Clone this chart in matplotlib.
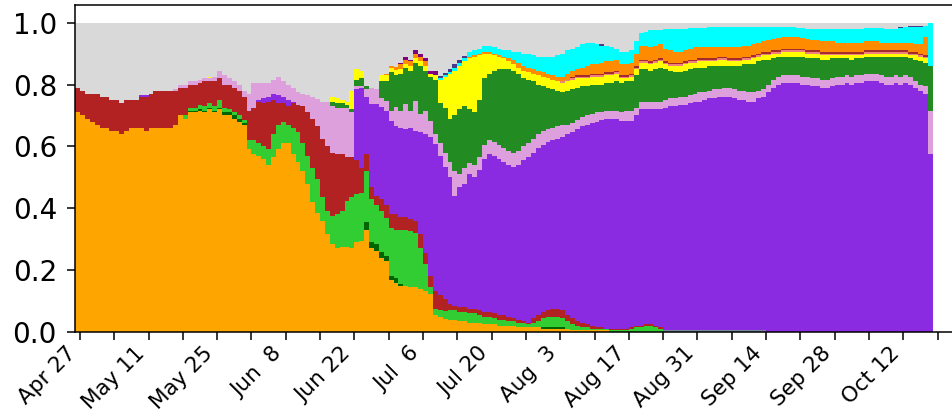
import numpy as np
import pandas as pd
import matplotlib
matplotlib.use("Agg")
import matplotlib.pyplot as plt
import matplotlib.dates as mdates

# Daily shares in percent, one value per day starting 2020-04-26 (175 days).
# Segments: Apr26-May16 | May17-May30 | May31-Jun14 | Jun15-Jul8 | Jul9-Aug14 | Aug15-Aug23 | Aug24-Sep13 | Sep14-Oct17

orange = ([71, 70, 69, 68, 67, 66, 66, 65, 65, 64, 65, 66, 66, 66, 65, 66, 66, 66, 66, 66, 67]
          + [70, 69, 71, 71, 71.5, 71, 72, 71, 72, 70, 70, 69, 68, 67]
          + [59, 57.5, 57, 56, 54, 56.5, 59, 61, 61, 57.5, 55, 52, 48, 42, 38.5]
          + [36, 31.7, 28.5, 27, 27.5, 27.5, 27, 29, 29.5, 33, 27, 26.3, 24, 23, 16.7, 16, 15, 15, 14.5, 14.5,
             14, 13.4, 12.4, 5.4]
          + [4.8, 4.3, 4, 4, 3.5, 3.5, 3, 3, 3, 2.5, 2.5, 2.5, 2, 2, 2, 2, 1.5, 1.5, 1.5, 1.5,
             1.5, 1, 1, 1, 1, 1, 1, .5, .5, .5, .5, .5, .5, .5, .5, 0, 0]
          + [0] * 64)

slate = [0] * 120 + [.5] * 21 + [0] * 34

darkgreen = ([0] * 21 + [0, 0, .5, .5, .5, .5, .5, .5, .5, 1, 1, 1, 1, .5] + [0] * 24
             + [2.5, 2, 2, 2, 1.5, 1.5, 1.5, .5] + [0] * 28 + [.5] * 5 + [0] * 75)

limegreen = ([0] * 21
             + [0, 1, 1, 1, 1.5, 1.5, 1.5, 1.5, 2.5, 1.5, 1, 1, 1, 1]
             + [3, 4.5, 4, 4, 5, 7.5, 8, 7, 6, 8.5, 9.5, 9, 9, 11, 11]
             + [7.5, 7.3, 9, 11, 11.5, 15, 16.5, 15.5, 15.5, 16.5, 14, 12.7, 13, 12.5, 15.3, 15.5, 17.5, 18, 18, 17.5,
                13, 8.6, 2.1, 2.1]
             + [2.2, 2.5, 3, 3, 3, 3, 3, 3, 2.5, 2.5, 2.5, 2, 2, 2, 1.5, 1.5, 1.5, 1.5, 1, 1.5,
                2, 3, 3.5, 3.5, 3.5, 3, 2.5, 2, 1.5, 1, 1, .5, .5, .5, .5, .5, .5]
             + [.5, .5, 1, 1.5, 1.5, 2, 2, 1.5, 1]
             + [0] * 55)

firebrick = ([8, 8, 8, 9, 10, 10, 10, 10, 10, 10, 10, 9, 9, 10, 11, 11, 12, 12, 12, 12, 11]
             + [9, 9, 7.5, 7.5, 7, 8, 7, 8, 7, 7.5, 8, 8, 8, 7.5]
             + [9.5, 10.5, 13.5, 14, 15.5, 11, 7, 6, 6, 8, 9, 12, 14, 16, 17]
             + [19, 21, 20.5, 19.5, 18.5, 14, 13, 11, 8, 5.5, 4, 3, 4, 4, 4.7, 5.2, 4.1, 4.1, 4.1, 4,
                4.7, 3.7, 3.5, 5.9]
             + [5, 4, 2, 1.5, 1.5, 1.5, 1.5, 1.5, 1.5, 1.5, 1.5, 1.5, 1.5, 1.5, 1.5, 1, 1, .5, .5, 1.5,
                2, 2, 2, 2.5, 2.5, 2.5, 2, 2, 1.5, 1.5, 1, 1, .5, .5, 0, .5, .5]
             + [.5] * 9
             + [0] * 55)

blueviolet = ([0] * 13 + [.5, .5] + [0] * 6
              + [0] * 14
              + [0, 0, .5, 1.5, 1.5, 2, 2.5, 2, 2, .5, 0, 0, 0, 0, 0]
              + [0] * 7 + [23, 26, 18.5, 26.7, 29.7, 29.6, 30.5, 30.1, 28.5, 29, 28.5, 29.5, 29, 32.8, 38.3, 44.9, 47.4]
              + [45, 42.7, 41, 35.5, 39, 40, 43.5, 42.5, 45.5, 49.5, 51, 51, 50.5, 49.5, 49, 49, 50, 52, 53.5, 53.5,
                 54, 54, 54.5, 54.5, 55, 56, 58.5, 60, 62, 63.5, 64.5, 65.5, 66.5, 67, 68, 68, 68]
              + [67.3, 67.3, 66.8, 68, 70, 69.5, 69.5, 70, 70.5]
              + [72, 72.5, 72.5, 73, 73, 73.5, 74, 74, 74.5, 75, 75, 75.5, 75.5, 75.5, 75, 74.5, 74.5, 74, 74, 75, 75.5]
              + [77.5, 79, 80, 80.5, 80.5, 80.5, 80.5, 80, 80, 79.5, 79.5, 79, 79, 79.5, 80, 80, 80.5, 80, 80.5, 80.5,
                 81, 81, 81, 80.5, 80, 80, 80.5, 80, 80.5, 80, 79, 78, 77, 57.5])

plum = ([0] * 20 + [.5]
        + [1, 1, 1, 1, 1, 1, 1, 1.5, 2.5, 3, 2, 2, 2, 2]
        + [5.5, 8, 5.5, 5, 4.5, 4.5, 5.8, 5, 5, 4.5, 4, 4, 5.5, 7, 8.8]
        + [12, 14.2, 15, 15, 15, 16, 14.5, 1, .5, 2.5, 5.3, 4.8, 3.2, 3.2, 3.2, 6, 5.4, 8.1, 5.4, 9.7,
           5.9, 7.5, 5.4, 3.2]
        + [4, 4.5, 5, 8, 4, 5, 3.5, 4, 4] + [4.5] * 13 + [4] * 4 + [3] * 7 + [2.5] * 4
        + [2.7, 3.2, 3.2, 2.5, 2.5, 2.5, 2.5, 2.5, 2.5]
        + [2.5, 2.5, 2.5, 2.5, 2.5, 2.5, 2.5, 3, 2.5, 2.5, 3, 2.5, 3, 3, 3, 3, 3, 3, 3, 2.5, 2.5]
        + [2.5] * 30 + [2, 2, 2.5, 14])

forestgreen = ([0] * 52
               + [1.5, 1.5, 1.5, 1, 1, 2, 2.5, 1, 0, 0, 5.4, 6.3, 12.5, 10.4, 11.8, 11.8, 13, 12.3, 15.6, 13, 14, 17.5]
               + [13, 14.5, 14, 18, 21, 20, 17.5, 17, 18.5, 21.5, 21.5, 23, 24.5, 25.5, 26.5, 26.5, 25, 22, 20.5, 18.5,
                  16, 14.5, 13.5, 12.5, 11.5, 10.5, 11, 11, 10.5, 10, 9.5, 9.5, 9, 9, 9, 9, 9.5]
               + [9.5, 9.5, 9.5, 10.5, 10.5, 10.5, 10, 10.5, 11]
               + [10, 9, 8.5, 8, 8.5, 8.5, 8.5, 8, 8, 8, 7.5, 7.5, 7, 7, 7.5, 8, 8.5, 9, 9, 9.5, 9.5]
               + [8, 7, 6.5, 6, 6, 6, 6, 6.5, 6, 6.5, 6.5, 6.5, 6.5, 6.5, 6, 6, 5.5, 5.5, 5.5, 5.5,
                  5.5, 5.5, 5.5, 6, 6.5, 6.5, 6, 6.5, 6, 6, 7, 7.5, 7.5, 14.5])

yellow = ([0] * 27 + [.5] + [0] * 24
          + [1.5, 1.5, 1, 1, 6, 3.5, 2.5, 0, 0, 0, 1.8, 2, 1.5, 1.5, 1.7, 1, 1.5, 1.5, 1.5, 1.5, 1.2, 1.5]
          + [7.5, 10, 14.5, 14.5, 14, 14.5, 16.5, 18, 14.5, 8, 6.5, 5, 4, 3.5, 2.5, 2, 2, 2.5, 2.5, 2.5,
             3, 3, 3, 3, 3, 3, 3, 3, 3, 2.5, 2.5, 2.5, 2.5, 2.5, 2.5, 2.5, 2.5]
          + [1.5, 1, 1.5, 2, 2, 2, 2, 2, 2]
          + [1.5, 1.5, 2, 2, 2, 2, 1.5, 2, 2, 1.5, 1.5, 2, 2, 1.5, 1.5, 1.5, 1.5, 1.5, 2, 1.5, 1.5]
          + [1.5, 1.5, 1, 1.5, 1.5, 1.5, 1.5, 1.5, 1.5, 1.5, 1.5, 1.5, 1.5, 1, 1, 1, 1, 1.5, 1, 1,
             1, 1, 1, 1, 1, 1, 1, 1, 1, 1, 1.5, 1.5, 1.5, 0])

pink = [0] * 99 + [.5] * 75 + [0]
brown = [0] * 101 + [.5] * 73 + [0]

darkorange = ([0] * 63 + [.5, .5, 1, 1.5, 1.5, 1.5, 1.5, 1.5, 1.5] + [0] * 8
              + [.5] * 8 + [1] + [1.5] * 10 + [1.5, 2]
              + [2, 2, 2.5, 3, 3, 3, 3.5, 3.5, 3.5, 3.5]
              + [3.6, 3.6, 3.5, 4, 4.5, 4.5, 4.5, 4.5, 4.5]
              + [4, 4, 3.5, 3.5, 3.5, 3.5, 4, 3.5, 3.5, 3.5, 3.5, 3, 3, 3.5, 3.5, 3.5, 3.5, 3.5, 3.5, 3.5, 3.5]
              + [4, 3.8, 4, 3.7, 3.7, 4, 4, 3.5, 3.8, 3.5, 3.5, 3.5, 3.5, 3.5, 3, 3, 3, 3, 3, 3,
                 3, 3, 3, 2.5, 2.5, 2.5, 2.5, 2.5, 2.5, 3, 2.5, 3, 6, 0])

cyan = ([0] * 74
        + [.5, .5, .5, 1, 1, 1, 1.5, 1.5, 1.5, 2, 2, 2, 2, 2, 2.5, 2.5, 3.5, 4, 4.5, 4.5,
           4.5, 5, 5.5, 6, 7, 7.5, 7.5, 7, 7, 7.5, 7.5, 7, 6.5, 5.5, 5, 4.5, 3.5]
        + [3.9, 3.9, 4, 4, 4, 4.5, 5.5, 5, 4.5]
        + [6.3, 7, 7.5, 7.5, 7, 6.7, 6.2, 6.2, 6.2, 6.5, 6.5, 6.5, 6.5, 6.5, 6.5, 6.5, 6, 6, 5.5, 5, 4.5]
        + [4, 3.7, 3.5, 3.3, 3.3, 3, 2.8, 3.2, 3.2, 3.5, 3.5, 3.8, 3.8, 3.8, 4.3, 4.5, 4.5, 4.5, 4.5, 4.5,
           4.2, 4.2, 4.2, 4.7, 4.5, 4.5, 4.5, 4.7, 5, 5, 5.5, 5.5, 3.5, 14])

navy = ([0] * 74 + [.8, .8, 1, 1, 1, .7] + [0] * 27 + [.5] + [0] * 60
        + [.5] + [0] + [.5, .5, .5] + [0, 0])

purple = [0] * 66 + [.5, 1, .5, 1, 1, 1, 1, 1.5] + [0] * 101

layers = [
    (orange, "#FFA500"),
    (slate, "#778899"),
    (darkgreen, "#006400"),
    (limegreen, "#32CD32"),
    (firebrick, "#B22222"),
    (blueviolet, "#8A2BE2"),
    (plum, "#DDA0DD"),
    (forestgreen, "#228B22"),
    (yellow, "#FFFF00"),
    (pink, "#F08080"),
    (brown, "#A52A2A"),
    (darkorange, "#FF8C00"),
    (cyan, "#00FFFF"),
    (navy, "#483D8B"),
    (purple, "#800080"),
]

n_days = len(orange)
for vals, col in layers:
    assert len(vals) == n_days, (col, len(vals))

# step='post' needs one extra edge at the end, so repeat the final day
days = pd.date_range("2020-04-26", periods=n_days + 1)
series = [np.append(np.array(v, float), v[-1]) / 100 for v, _ in layers]
other = np.clip(1 - np.sum(series, axis=0), 0, None)
series.append(other)
colors = [c for _, c in layers] + ["#D9D9D9"]

fig = plt.figure(figsize=(9.53, 4.16), dpi=100)
ax = fig.add_axes([0.0787, 0.2019, 0.934, 0.7853])
ax.stackplot(days, *series, colors=colors, step="post", linewidth=0)

ax.set_xlim(days[0], days[0] + pd.Timedelta(days=181.6))
ax.set_ylim(0, 1.056)
ax.set_yticks(np.arange(0, 1.01, 0.2))
ax.yaxis.set_major_formatter(plt.FormatStrFormatter("%.1f"))

major = pd.date_range("2020-04-27", "2020-10-24", freq="14D")
minor = pd.date_range("2020-05-04", "2020-10-24", freq="14D")
ax.set_xticks(major)
ax.set_xticks(minor, minor=True)
ax.xaxis.set_major_formatter(mdates.DateFormatter("%b %e"))

ax.tick_params(axis="both", which="both", length=5.5, width=1.1)
ax.tick_params(axis="y", labelsize=20, pad=7.5)
ax.tick_params(axis="x", labelsize=15.5, pad=2.5)
plt.setp(ax.get_xticklabels(), rotation=45, ha="right")
for sp in ax.spines.values():
    sp.set_linewidth(1.1)

fig.savefig("out.png", dpi=100)
